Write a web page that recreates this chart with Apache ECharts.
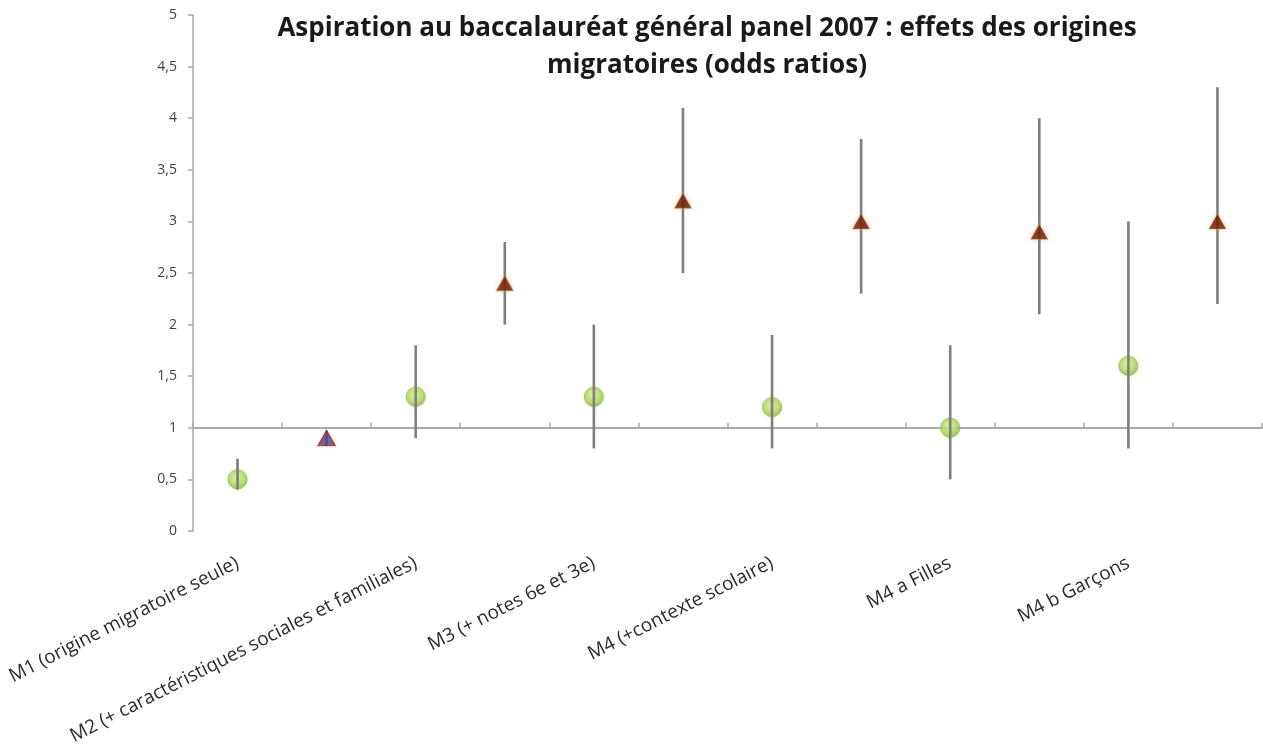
<!DOCTYPE html>
<html>
<head>
<meta charset="utf-8">
<title>Aspiration au baccalauréat général panel 2007</title>
<script src="https://cdn.jsdelivr.net/npm/echarts@6/dist/echarts.min.js"></script>
<style>
  html, body { margin: 0; padding: 0; background: #ffffff; }
  #chart { width: 1263px; height: 753px; }
</style>
</head>
<body>
<div id="chart"></div>
<script>
// Models (one label per pair of points)
const models = [
  'M1 (origine migratoire seule)',
  'M2 (+ caractéristiques sociales et familiales)',
  'M3 (+ notes 6e et 3e)',
  'M4 (+contexte scolaire)',
  'M4 a Filles',
  'M4 b Garçons'
];

// Odds ratios and confidence bounds, circle series
const circleOR   = [0.5, 1.3, 1.3, 1.2, 1.0, 1.6];
const circleLow  = [0.4, 0.9, 0.8, 0.8, 0.5, 0.8];
const circleHigh = [0.7, 1.8, 2.0, 1.9, 1.8, 3.0];

// Odds ratios and confidence bounds, triangle series
const triOR   = [0.9, 2.4, 3.2, 3.0, 2.9, 3.0];
const triLow  = [0.83, 2.0, 2.5, 2.3, 2.1, 2.2];
const triHigh = [0.97, 2.8, 4.1, 3.8, 4.0, 4.3];

// Y axis range
const yMin = 0, yMax = 5, yStep = 0.5;
const refValue = 1; // odds ratio of 1 (no effect)

// Two slots per model: circle then triangle
const slots = [];
models.forEach(m => { slots.push(m); slots.push(''); });

const circleData = circleOR.map((v, i) => [2 * i, v]);
const triData = triOR.map((v, i) => {
  const item = { value: [2 * i + 1, v] };
  if (i === 0) {
    item.itemStyle = { color: '#4d3f80', borderColor: '#b3261e', borderWidth: 1.5, shadowBlur: 0 };
  }
  return item;
});
const barData = [];
circleOR.forEach((v, i) => barData.push([2 * i, circleLow[i], circleHigh[i]]));
triOR.forEach((v, i) => barData.push([2 * i + 1, triLow[i], triHigh[i]]));

const FONT = '"Open Sans", Lato, sans-serif';
const chart = echarts.init(document.getElementById('chart'), null, { renderer: 'canvas' });

chart.setOption({
  animation: false,
  backgroundColor: '#ffffff',
  graphic: [{
    type: 'text',
    x: 707,
    y: 10,
    style: {
      text: 'Aspiration au baccalauréat général panel 2007 : effets des origines\nmigratoires (odds ratios)',
      align: 'center',
      fontFamily: FONT,
      fontWeight: 'bold',
      fontSize: 26,
      lineHeight: 37,
      fill: '#1a1a1a'
    }
  }],
  grid: { left: 193, right: 1, top: 15, bottom: 222, containLabel: false },
  xAxis: [
    {
      type: 'category',
      position: 'bottom',
      data: slots,
      boundaryGap: true,
      axisLine: { show: false, onZero: false },
      axisTick: { show: false },
      axisLabel: {
        interval: 0,
        rotate: 27,
        margin: 31,
        fontFamily: FONT,
        fontSize: 19,
        color: '#2a2a2a'
      }
    },
    {
      // horizontal reference line at odds ratio = 1
      type: 'category',
      position: 'bottom',
      data: slots,
      boundaryGap: true,
      axisLine: { show: true, onZero: true, onZeroAxisIndex: 1, lineStyle: { color: '#a9a9a9', width: 2 } },
      axisTick: { show: true, inside: true, interval: 0, length: 5, lineStyle: { color: '#a9a9a9', width: 1.5 } },
      axisLabel: { show: false }
    }
  ],
  yAxis: [
    {
      type: 'value',
      min: yMin,
      max: yMax,
      interval: yStep,
      axisLine: { show: true, lineStyle: { color: '#a9a9a9', width: 1.5 } },
      axisTick: { show: true, length: 5, lineStyle: { color: '#a9a9a9', width: 1.5 } },
      splitLine: { show: false },
      axisLabel: {
        margin: 16,
        fontFamily: FONT,
        fontSize: 14,
        color: '#404040',
        formatter: v => String(v).replace('.', ',')
      }
    },
    {
      // shifted copy of the value axis so the reference line sits at refValue
      type: 'value',
      show: false,
      min: yMin - refValue,
      max: yMax - refValue,
      interval: yStep,
      splitLine: { show: false }
    }
  ],
  series: [
    {
      name: 'cercles',
      type: 'scatter',
      xAxisIndex: 0,
      yAxisIndex: 0,
      z: 2,
      symbol: 'circle',
      symbolSize: 19,
      data: circleData,
      itemStyle: {
        color: {
          type: 'radial', x: 0.45, y: 0.4, r: 0.6,
          colorStops: [
            { offset: 0, color: '#d8ee9c' },
            { offset: 0.6, color: '#b4d968' },
            { offset: 1, color: '#8ab83e' }
          ]
        },
        borderColor: '#9cc24c',
        borderWidth: 1,
        shadowBlur: 3,
        shadowColor: 'rgba(140,180,60,0.35)'
      }
    },
    {
      name: 'intervalles',
      type: 'custom',
      xAxisIndex: 0,
      yAxisIndex: 0,
      z: 3,
      data: barData,
      encode: { x: 0, y: [1, 2] },
      renderItem: function (params, api) {
        const x = api.value(0);
        const lo = api.coord([x, api.value(1)]);
        const hi = api.coord([x, api.value(2)]);
        return {
          type: 'line',
          shape: { x1: lo[0], y1: lo[1], x2: hi[0], y2: hi[1] },
          style: { stroke: '#7e7e7e', lineWidth: 2.6 }
        };
      }
    },
    {
      name: 'triangles',
      type: 'scatter',
      xAxisIndex: 0,
      yAxisIndex: 0,
      z: 4,
      symbol: 'triangle',
      symbolSize: [17, 15],
      data: triData,
      itemStyle: {
        color: '#6e0f00',
        borderColor: 'rgba(190,150,70,0.6)',
        borderWidth: 0.8,
        shadowBlur: 4,
        shadowColor: 'rgba(200,165,80,0.7)'
      }
    }
  ]
});
</script>
</body>
</html>
